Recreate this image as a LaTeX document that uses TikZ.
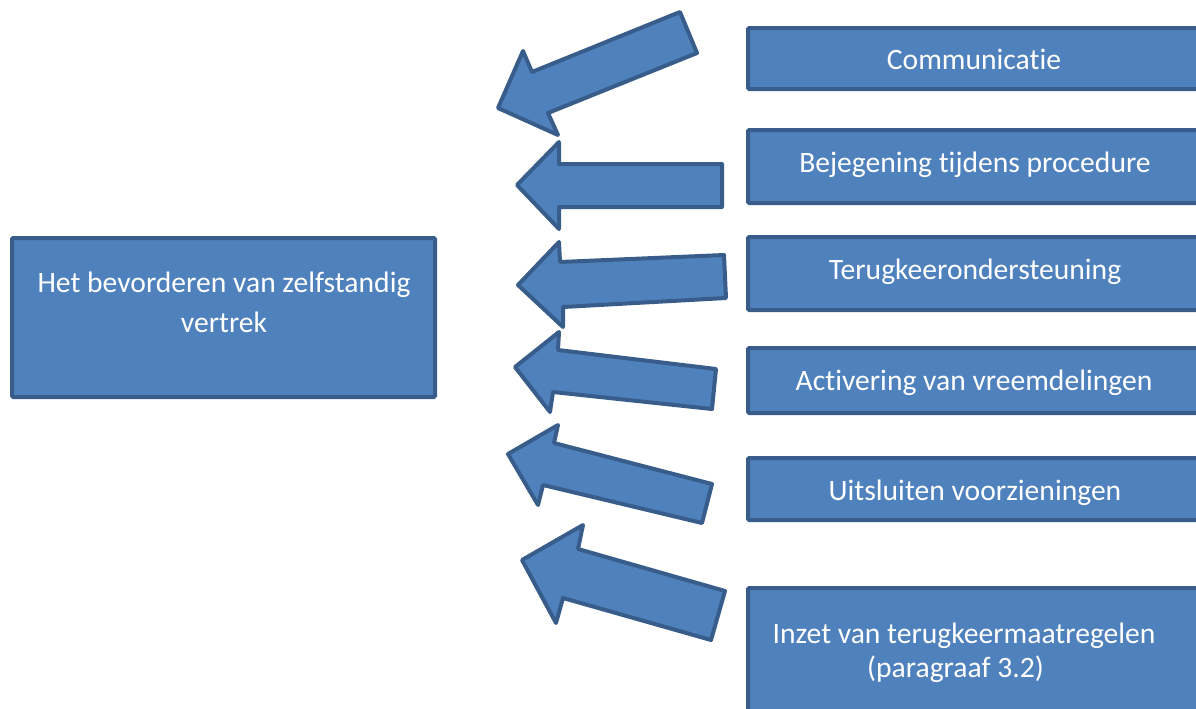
\documentclass[tikz,border=0pt]{standalone}
\usepackage{fontspec}
\setmainfont[Ligatures={NoCommon}]{Carlito}
\definecolor{boxfill}{HTML}{4F81BD}
\definecolor{boxline}{HTML}{385D8A}
\tikzset{
  px/.style={x=0.5pt,y=-0.5pt},
  bluebox/.style={draw=boxline,fill=boxfill,line width=2pt,inner sep=0pt,outer sep=0pt,rounded corners=0.6pt},
  blockarrow/.style={draw=boxline,fill=boxfill,line width=2pt,line join=round},
  lbl/.style={text=white,font=\fontsize{14.8}{21}\selectfont,anchor=base,inner sep=0pt}
}
\begin{document}
\begin{tikzpicture}[px]
\useasboundingbox (0,0) rectangle (1196,708);
% boxes
\node[bluebox,minimum width=211.5pt,minimum height=79.5pt] (goal) at (223.5,317.5) {};
\node[bluebox,minimum width=228.5pt,minimum height=30.5pt] (b1) at (976.5,58.5) {};
\node[bluebox,minimum width=228.5pt,minimum height=36.5pt] (b2) at (976.5,166.5) {};
\node[bluebox,minimum width=228.5pt,minimum height=36.5pt] (b3) at (976.5,273.5) {};
\node[bluebox,minimum width=228.5pt,minimum height=32.5pt] (b4) at (976.5,380.5) {};
\node[bluebox,minimum width=228.5pt,minimum height=31pt] (b5) at (976.5,489) {};
\node[bluebox,minimum width=228.5pt,minimum height=66pt] (b6) at (976.5,654) {};
% labels
\node[lbl] (g1) at (224,292) {Het bevorderen van zelfstandig};
\node[lbl] (g2) at (224,332) {vertrek};
\node[lbl] (t1) at (974,69) {Communicatie};
\node[lbl] (t2) at (975,172) {Bejegening tijdens procedure};
\node[lbl] (t3) at (975,279) {Terugkeerondersteuning};
\node[lbl] (t4) at (974,390) {Activering van vreemdelingen};
\node[lbl] (t5) at (975,500) {Uitsluiten voorzieningen};
\node[lbl] (t6a) at (964,643) {Inzet van terugkeermaatregelen};
\node[lbl] (t6b) at (955.5,677) {(paragraaf 3.2)};
% block arrows
\draw[blockarrow] (680,12) -- (697,53) -- (548,113) -- (558,135) -- (498,108) -- (523,51) -- (532,72) -- cycle;
\draw[blockarrow] (722,164) -- (722,207) -- (559,207) -- (559,229) -- (517,185) -- (559,142) -- (559,164) -- cycle;
\draw[blockarrow] (724,255) -- (726,298) -- (563,307) -- (563,327) -- (518,285) -- (559,242) -- (560,262) -- cycle;
\draw[blockarrow] (716,369) -- (712,409) -- (553,392) -- (550,412) -- (515,367) -- (559,332) -- (558,350) -- cycle;
\draw[blockarrow] (712,484) -- (702,523) -- (543,485) -- (538,505) -- (508,454) -- (558,425) -- (554,443) -- cycle;
\draw[blockarrow] (725,591) -- (711,640) -- (563,598) -- (556,623) -- (522,560) -- (583,525) -- (578,549) -- cycle;
\end{tikzpicture}
\end{document}
